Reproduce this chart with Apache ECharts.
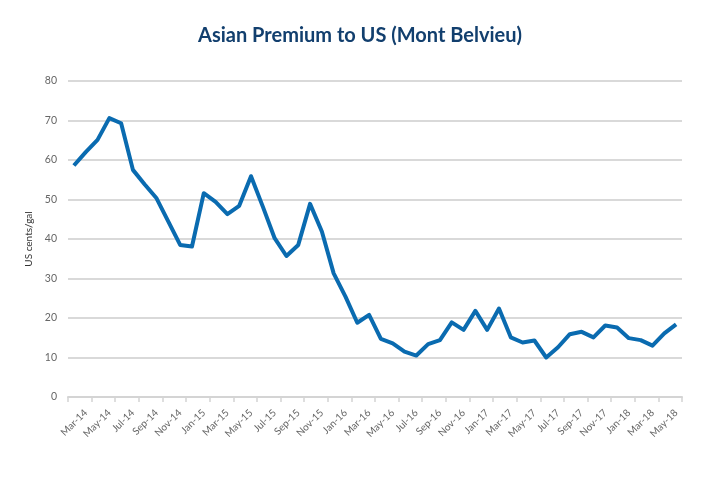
<!DOCTYPE html>
<html>
<head>
<meta charset="utf-8">
<script src="https://cdn.jsdelivr.net/npm/echarts@6/dist/echarts.min.js"></script>
<style>html,body{margin:0;padding:0;background:#fff}#c{width:720px;height:500px}</style>
</head>
<body>
<div id="c"></div>
<script>
const months = ['Feb-14','Mar-14','Apr-14','May-14','Jun-14','Jul-14','Aug-14','Sep-14','Oct-14','Nov-14','Dec-14',
'Jan-15','Feb-15','Mar-15','Apr-15','May-15','Jun-15','Jul-15','Aug-15','Sep-15','Oct-15','Nov-15','Dec-15',
'Jan-16','Feb-16','Mar-16','Apr-16','May-16','Jun-16','Jul-16','Aug-16','Sep-16','Oct-16','Nov-16','Dec-16',
'Jan-17','Feb-17','Mar-17','Apr-17','May-17','Jun-17','Jul-17','Aug-17','Sep-17','Oct-17','Nov-17','Dec-17',
'Jan-18','Feb-18','Mar-18','Apr-18','May-18'];
const premium = [58.6,62.0,65.1,70.6,69.3,57.5,53.8,50.3,44.4,38.5,38.1,
51.6,49.4,46.3,48.4,55.9,48.2,40.2,35.7,38.5,48.9,41.9,31.3,
25.4,18.8,20.8,14.7,13.6,11.5,10.5,13.4,14.4,18.9,17.0,21.8,
17.0,22.4,15.1,13.8,14.3,10.0,12.6,15.9,16.5,15.1,18.1,17.6,
14.9,14.4,13.0,16.1,18.4];
const yTicks = {min: 0, max: 80, interval: 10};
const titleText = 'Asian Premium to US (Mont Belvieu)';
const yName = 'US cents/gal';

const chart = echarts.init(document.getElementById('c'), null, {renderer: 'canvas'});
chart.setOption({
  animation: false,
  backgroundColor: '#fff',
  title: {
    text: titleText,
    left: 'center',
    top: 21,
    textStyle: {fontFamily: 'Lato', fontWeight: 'bold', fontSize: 20, color: '#123f6e'}
  },
  grid: {left: 68, right: 38, top: 81, bottom: 103},
  xAxis: {
    type: 'category',
    data: months,
    boundaryGap: true,
    axisLine: {lineStyle: {color: '#d4d4d4', width: 2}},
    axisTick: {show: true, interval: 1, length: 5, lineStyle: {color: '#d4d4d4', width: 1.5}},
    axisLabel: {
      interval: (i) => i % 2 === 1,
      rotate: 45,
      fontFamily: 'Lato',
      fontSize: 10,
      color: '#666',
      margin: 14
    },
    splitLine: {show: false}
  },
  yAxis: {
    type: 'value',
    min: yTicks.min,
    max: yTicks.max,
    interval: yTicks.interval,
    name: yName,
    nameLocation: 'middle',
    nameGap: 32,
    nameTextStyle: {fontFamily: 'Lato', fontSize: 10, color: '#333'},
    axisLine: {show: false},
    axisTick: {show: false},
    axisLabel: {fontFamily: 'Lato', fontSize: 10.5, color: '#666', margin: 11},
    splitLine: {lineStyle: {color: '#d9d9d9', width: 2}}
  },
  series: [{
    type: 'line',
    data: premium,
    showSymbol: false,
    lineStyle: {color: '#0a6bb0', width: 4, join: 'round'},
    itemStyle: {color: '#0a6bb0'}
  }]
});
</script>
</body>
</html>
